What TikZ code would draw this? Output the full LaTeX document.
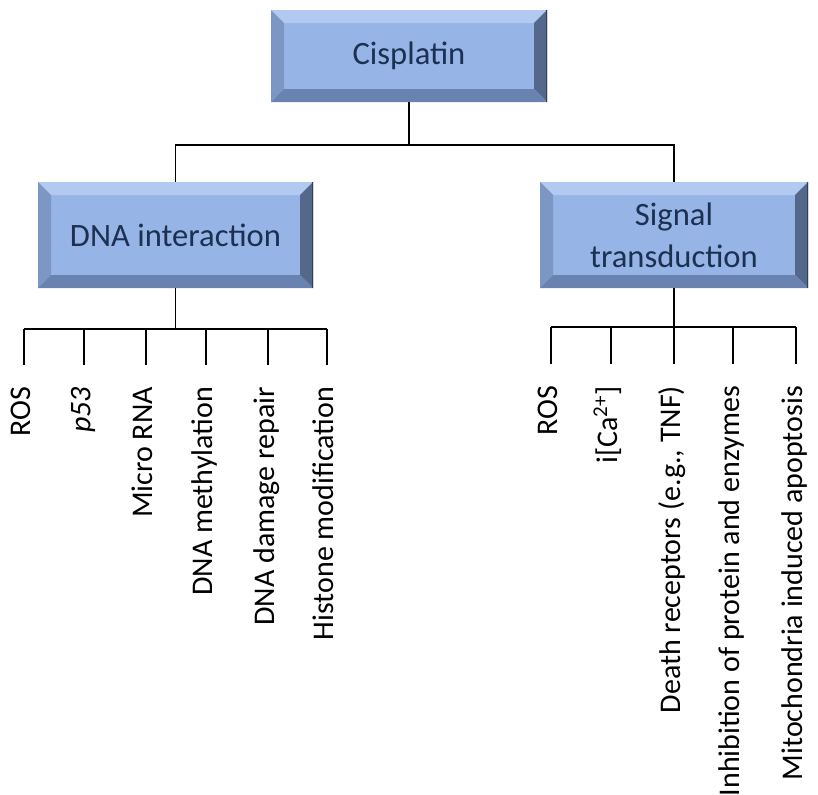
\documentclass[tikz,border=0pt]{standalone}
\usepackage{fontspec}
\setmainfont{Carlito}

\definecolor{boxblue}{RGB}{150,180,230}
\definecolor{bevtop}{RGB}{178,202,240}
\definecolor{bevleft}{RGB}{125,151,196}
\definecolor{bevright}{RGB}{84,104,140}
\definecolor{bevbottom}{RGB}{105,130,175}
\definecolor{boxtext}{RGB}{28,48,82}

\tikzset{
  bevelbox/.style={fill=boxblue, text=boxtext, align=center, inner sep=0pt,
    font=\fontsize{16.3}{21}\selectfont,
    path picture={
      \fill[bevtop] (path picture bounding box.north west) -- (path picture bounding box.north east)
        -- ([xshift=-6.5pt,yshift=-6.5pt]path picture bounding box.north east)
        -- ([xshift=6.5pt,yshift=-6.5pt]path picture bounding box.north west) -- cycle;
      \fill[bevleft] (path picture bounding box.north west) -- ([xshift=6.5pt,yshift=-6.5pt]path picture bounding box.north west)
        -- ([xshift=6.5pt,yshift=6.5pt]path picture bounding box.south west)
        -- (path picture bounding box.south west) -- cycle;
      \fill[bevright] (path picture bounding box.north east) -- ([xshift=-6.5pt,yshift=-6.5pt]path picture bounding box.north east)
        -- ([xshift=-6.5pt,yshift=6.5pt]path picture bounding box.south east)
        -- (path picture bounding box.south east) -- cycle;
      \fill[bevbottom] (path picture bounding box.south west) -- ([xshift=6.5pt,yshift=6.5pt]path picture bounding box.south west)
        -- ([xshift=-6.5pt,yshift=6.5pt]path picture bounding box.south east)
        -- (path picture bounding box.south east) -- cycle;
      \draw[bevright!60!black, line width=1pt] (path picture bounding box.north east) -- (path picture bounding box.south east);
    }},
  leaf/.style={rotate=90, anchor=east, inner sep=0pt, outer xsep=11pt,
    text height=0.644em, text depth=0pt, font=\fontsize{15}{18}\selectfont},
  tree/.style={line width=0.9pt}
}

\begin{document}
\begin{tikzpicture}[x=0.5pt, y=-0.5pt]
    \useasboundingbox (0,0) rectangle (818,794);

    % Top level
    \node[bevelbox, minimum width=138pt, minimum height=46pt] (cis) at (409,56) {Cisplatin};

    % Second level
    \node[bevelbox, minimum width=137.5pt, minimum height=53pt] (dna) at (175.5,235) {DNA interaction};
    \node[bevelbox, minimum width=134pt, minimum height=53pt] (sig) at (674,235) {Signal\\transduction};

    \coordinate (cisbus) at (409,145);
    \draw[tree] (cis.south) -- (cisbus);
    \draw[tree] (cisbus) -| (dna.north);
    \draw[tree] (cisbus) -| (sig.north);

    % DNA interaction leaves
    \node[leaf] (d1) at (24,365) {ROS};
    \node[leaf] (d2) at (84,365) {\textit{p53}};
    \node[leaf] (d3) at (146,365) {Micro RNA};
    \node[leaf] (d4) at (206,365) {DNA methylation};
    \node[leaf] (d5) at (268,365) {DNA damage repair};
    \node[leaf] (d6) at (327,365) {Histone modification};

    \coordinate (dnabus) at (175.5,329);
    \draw[tree] (dna.south) -- (dnabus);
    \draw[tree] (dnabus -| d1.east) -- (dnabus -| d6.east);
    \foreach \n in {d1,d2,d3,d4,d5,d6}
        \draw[tree] (dnabus -| \n.east) -- (\n.east);

    % Signal transduction leaves
    \node[leaf] (s1) at (551,364) {ROS};
    \node[leaf] (s2) at (611,364) {i[Ca\textsuperscript{2+}]};
    \node[leaf] (s3) at (674,364) {Death receptors (e.g., TNF)};
    \node[leaf] (s4) at (733,364) {Inhibition of protein and enzymes};
    \node[leaf] (s5) at (796,364) {Mitochondria induced apoptosis};

    \coordinate (sigbus) at (674,327);
    \draw[tree] (sig.south) -- (sigbus);
    \draw[tree] (sigbus -| s1.east) -- (sigbus -| s5.east);
    \foreach \n in {s1,s2,s3,s4,s5}
        \draw[tree] (sigbus -| \n.east) -- (\n.east);
\end{tikzpicture}
\end{document}
